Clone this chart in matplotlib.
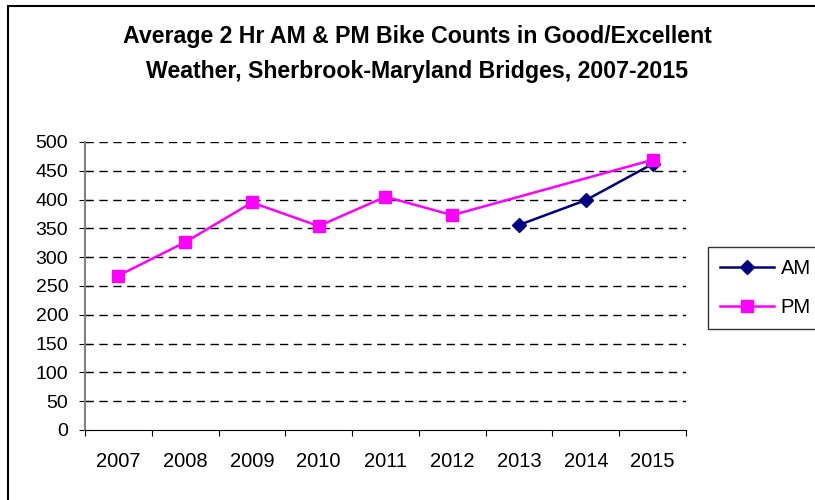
import matplotlib
matplotlib.use('Agg')
import matplotlib.pyplot as plt
from matplotlib.patches import Rectangle

plt.rcParams['font.family'] = ['Liberation Sans', 'DejaVu Sans']

years = ['2007', '2008', '2009', '2010', '2011', '2012', '2013', '2014', '2015']
am_years = ['2013', '2014', '2015']
am_counts = [356, 399, 462]
pm_years = ['2007', '2008', '2009', '2010', '2011', '2012', '2015']
pm_counts = [268, 326, 395, 354, 405, 373, 469]
yticks = [0, 50, 100, 150, 200, 250, 300, 350, 400, 450, 500]

fig = plt.figure(figsize=(8.15, 5.0), dpi=100)
ax = fig.add_axes([85/815, 70/500, 601/815, 288/500])

xpos = {y: i for i, y in enumerate(years)}
ax.plot([xpos[y] for y in am_years], am_counts, color='#000080', marker='D',
        markersize=7, linewidth=1.8, label='AM')
ax.plot([xpos[y] for y in pm_years], pm_counts, color='#FF00FF', marker='s',
        markersize=8, linewidth=1.8, label='PM')

ax.set_xlim(-0.5, len(years) - 0.5)
ax.set_ylim(0, 500)
ax.set_yticks(yticks)
ax.set_yticklabels([str(v) for v in yticks], fontsize=14)
ax.set_xticks([i + 0.5 for i in range(-1, len(years))])
ax.set_xticklabels([])
ax.set_xticks(range(len(years)), minor=True)
ax.set_xticklabels(years, minor=True, fontsize=14.5)
ax.tick_params(axis='x', which='minor', length=0, pad=16)
ax.tick_params(axis='x', which='major', length=4, direction='out', color='black')
ax.tick_params(axis='y', length=8, direction='inout', pad=8, color='black')

for v in yticks[1:]:
    ax.axhline(v, color='black', linestyle=(0, (6, 4)), linewidth=1.0, zorder=0)

for s in ['top', 'right']:
    ax.spines[s].set_visible(False)
ax.spines['left'].set_color('#808080')
ax.spines['left'].set_linewidth(1.5)
ax.spines['bottom'].set_color('black')

fig.text(417/815, 1 - 43/500,
         'Average 2 Hr AM & PM Bike Counts in Good/Excellent',
         ha='center', va='baseline', fontsize=16.7, fontweight='bold')
fig.text(417/815, 1 - 78/500,
         'Weather, Sherbrook-Maryland Bridges, 2007-2015',
         ha='center', va='baseline', fontsize=16.7, fontweight='bold')

leg = fig.legend(loc='upper left', bbox_to_anchor=(708/815, 1 - 247/500),
                 borderaxespad=0, fontsize=14.5, frameon=True, fancybox=False,
                 edgecolor='black', handlelength=2.7, handletextpad=0.3,
                 borderpad=0.6, labelspacing=1.0)
leg.get_frame().set_linewidth(1.0)

fig.patches.append(Rectangle((8/815, -0.1), 1.2, 1 - 6/500 + 0.1,
                             transform=fig.transFigure, fill=False,
                             edgecolor='black', linewidth=1.5))

fig.savefig('out.png', dpi=100)
